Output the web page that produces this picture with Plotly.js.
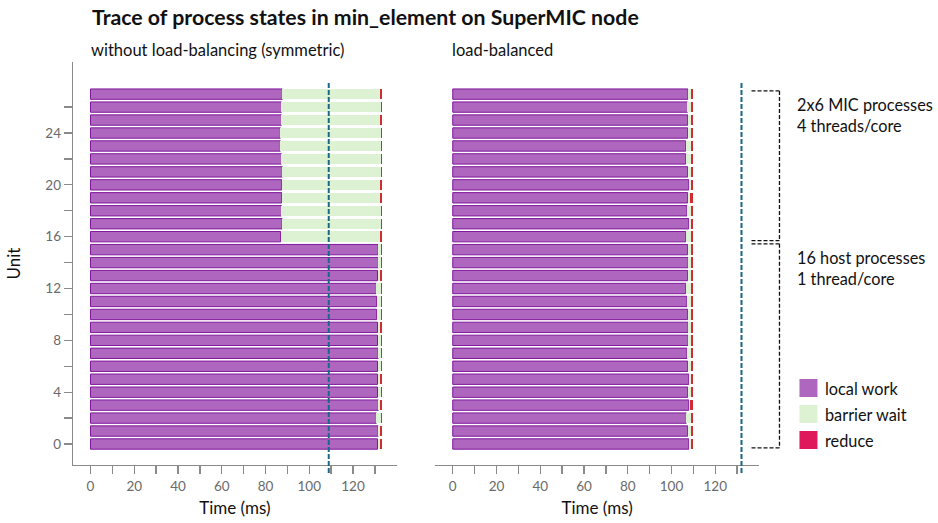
<!DOCTYPE html>
<html>
<head>
<meta charset="utf-8">
<script src="https://cdn.plot.ly/plotly-3.0.1.min.js"></script>
<style>html,body{margin:0;padding:0;background:#fff;}#chart{width:938px;height:523px;}</style>
</head>
<body>
<div id="chart"></div>
<script>
// ---- data ----
const units = [0,1,2,3,4,5,6,7,8,9,10,11,12,13,14,15,16,17,18,19,20,21,22,23,24,25,26,27];
const stateNames = ["local work", "barrier wait", "reduce"];

// without load-balancing (symmetric)
const leftLocalEnd = [131.2,131.5,130.7,131.6,131.2,131.2,131.2,131.5,131.2,131.2,130.8,130.8,130.7,131.2,131.6,131.5,
                      86.9,87.6,87.3,87.4,87.4,87.7,87.3,86.8,86.8,87.3,87.3,87.7];
const leftReduceStart = [132.3,132.3,132.7,132.3,132.7,132.3,132.7,132.7,132.7,132.3,132.7,132.7,132.7,132.3,132.7,132.7,
                         132.3,132.7,132.7,132.3,132.3,132.7,132.7,132.7,132.7,132.3,132.7,132.3];
const leftReduceEnd = [133.2,133.2,133.2,133.2,133.2,133.2,133.2,133.2,133.2,133.2,133.2,133.2,133.2,133.2,133.2,133.2,
                       133.2,133.2,133.2,133.2,133.2,133.2,133.2,133.2,133.2,133.2,133.2,133.2];

// load-balanced
const rightLocalEnd = [107.9,107.4,106.8,107.9,107.4,107.9,107.4,107.1,107.6,107.6,107.4,107.1,106.5,107.4,107.6,107.4,
                       106.5,107.9,107.1,107.4,107.9,107.4,106.5,106.5,107.4,107.4,107.3,107.5];
const rightReduceStart = [109.0,109.0,109.0,108.4,109.0,109.0,109.0,109.0,109.0,109.0,109.0,109.0,109.0,109.0,109.0,109.0,
                          109.0,109.0,109.0,108.4,109.0,109.0,109.0,109.0,109.0,109.0,109.0,109.0];
const rightReduceEnd = [109.9,109.9,109.9,109.9,109.9,109.9,109.9,109.9,109.9,109.9,109.9,109.9,109.9,109.9,109.9,109.9,
                        109.9,109.9,109.9,109.9,109.9,109.9,109.9,109.9,109.9,109.9,109.9,109.9];

// reference lines: total time of the other run
const leftRefTime = 108.9;
const rightRefTime = 132.0;

const xTickVals = [0,20,40,60,80,100,120];
const xMinorVals = [10,30,50,70,90,110,130];
const yTickVals = [0,4,8,12,16,20,24];
const yMinorVals = [2,6,10,14,18,22,26];

const groups = [
  {label: "2x6 MIC processes", sub: "4 threads/core", from: 16, to: 27},
  {label: "16 host processes", sub: "1 thread/core", from: 0, to: 15}
];

// ---- styles ----
const FONT = "Lato, 'DejaVu Sans', sans-serif";
const cLocal = "rgb(174,102,190)";
const cLocalEdge = "rgb(128,24,156)";
const cBarrier = "rgb(221,241,211)";
const cReduceBar = "rgb(208,44,52)";
const cReduceLegend = "rgb(222,24,90)";
const cRef = "rgb(22,104,134)";
const axisGray = "#8a8a8a";
const tickText = "#6a6a6a";

// geometry (pixels)
const W = 938, H = 523;
const mL = 73, mR = W - 759.5, mT = 62, mB = H - 465;
const pw = W - mL - mR, ph = H - mT - mB;
const px = v => (v - mL) / pw;          // pixel x -> paper x
const py = v => (H - mB - v) / ph;      // pixel y -> paper y

function sub(a, b) { return a.map((v, i) => v - b[i]); }
const zeros = units.map(() => 0);

function panelTraces(localEnd, redStart, redEnd, xa, ya) {
  return [
    {type: "bar", orientation: "h", y: units, x: localEnd, base: zeros, width: 0.8,
     name: stateNames[0], xaxis: xa, yaxis: ya, showlegend: false,
     marker: {color: cLocal, line: {color: cLocalEdge, width: 1}}, hoverinfo: "skip"},
    {type: "bar", orientation: "h", y: units, x: sub(redStart, localEnd), base: localEnd, width: 0.8,
     name: stateNames[1], xaxis: xa, yaxis: ya, showlegend: false,
     marker: {color: cBarrier, line: {width: 0}}, hoverinfo: "skip"},
    {type: "bar", orientation: "h", y: units, x: sub(redEnd, redStart), base: redStart, width: 0.8,
     name: stateNames[2], xaxis: xa, yaxis: ya, showlegend: false,
     marker: {color: cReduceBar, line: {width: 0}}, hoverinfo: "skip"}
  ];
}

const data = [].concat(
  panelTraces(leftLocalEnd, leftReduceStart, leftReduceEnd, "x", "y"),
  panelTraces(rightLocalEnd, rightReduceStart, rightReduceEnd, "x2", "y2")
);

const xRange = [-8, 140];
const yRange = [-1.62, 29.48];

function xAxis(domain, anchor) {
  return {
    domain: domain, anchor: anchor, range: xRange,
    tickmode: "array", tickvals: xTickVals, ticks: "outside", ticklen: 8, tickwidth: 1.3, tickcolor: axisGray,
    minor: {tickmode: "array", tickvals: xMinorVals, ticks: "outside", ticklen: 8, tickwidth: 1.3, tickcolor: axisGray, showgrid: false},
    showline: true, linecolor: axisGray, linewidth: 1.3,
    showgrid: false, zeroline: false,
    tickfont: {family: FONT, size: 13.5, color: tickText},
    title: {text: "Time (ms)", font: {family: FONT, size: 17, color: "#111"}, standoff: 9}
  };
}

const layout = {
  width: W, height: H,
  margin: {l: mL, r: mR, t: mT, b: mB, autoexpand: false},
  paper_bgcolor: "#fff", plot_bgcolor: "#fff",
  barmode: "overlay", bargap: 0,
  showlegend: false,
  font: {family: FONT, color: "#111"},
  title: {text: "<b>Trace of process states in min_element on SuperMIC node</b>",
          font: {family: FONT, size: 21.3, color: "#111"},
          xref: "container", yref: "container", x: 92 / W, xanchor: "left",
          y: 1 - 18 / H, yanchor: "middle"},
  xaxis: xAxis([0, px(397)], "y"),
  xaxis2: xAxis([px(435.5), 1], "y2"),
  yaxis: {
    domain: [0, 1], anchor: "x", range: yRange,
    tickmode: "array", tickvals: yTickVals, ticks: "outside", ticklen: 8, tickwidth: 1.3, tickcolor: axisGray,
    minor: {tickmode: "array", tickvals: yMinorVals, ticks: "outside", ticklen: 8, tickwidth: 1.3, tickcolor: axisGray, showgrid: false},
    showline: true, linecolor: axisGray, linewidth: 1.3,
    showgrid: false, zeroline: false,
    tickfont: {family: FONT, size: 13.5, color: tickText},
    title: {text: "Unit", font: {family: FONT, size: 17, color: "#111"}, standoff: 20}
  },
  yaxis2: {domain: [0, 1], anchor: "x2", range: yRange, visible: false, showgrid: false, zeroline: false},
  shapes: [],
  annotations: []
};

// reference dashed lines
layout.shapes.push({type: "line", xref: "x", yref: "paper", x0: leftRefTime, x1: leftRefTime,
  y0: py(473), y1: py(82), line: {color: cRef, width: 2, dash: "5px,2px"}});
layout.shapes.push({type: "line", xref: "x2", yref: "paper", x0: rightRefTime, x1: rightRefTime,
  y0: py(473), y1: py(82), line: {color: cRef, width: 2, dash: "5px,2px"}});

// group brackets
const bx0 = px(752), bx1 = px(780);
groups.forEach((g, i) => {
  const top = g.to + (i === 0 ? 0.25 : 0.45);
  const bot = g.from - 0.3;
  const ln = {color: "#111", width: 1.3, dash: "4px,2px"};
  layout.shapes.push({type: "line", xref: "paper", yref: "y2", x0: bx0, x1: bx1, y0: top, y1: top, line: ln});
  layout.shapes.push({type: "line", xref: "paper", yref: "y2", x0: bx1, x1: bx1, y0: top, y1: bot, line: ln});
  layout.shapes.push({type: "line", xref: "paper", yref: "y2", x0: bx0, x1: bx1, y0: bot, y1: bot, line: ln});
  const ty = top - 1.85;
  layout.annotations.push({xref: "paper", yref: "y2", x: px(796), y: ty, xanchor: "left", yanchor: "middle",
    text: g.label + "<br>" + g.sub, align: "left", showarrow: false,
    font: {family: FONT, size: 16.3, color: "#111"}});
});

// subplot titles
layout.annotations.push({xref: "paper", yref: "paper", x: px(89), y: py(50), xanchor: "left", yanchor: "middle",
  text: "without load-balancing (symmetric)", showarrow: false, font: {family: FONT, size: 16.5, color: "#111"}});
layout.annotations.push({xref: "paper", yref: "paper", x: px(450), y: py(50), xanchor: "left", yanchor: "middle",
  text: "load-balanced", showarrow: false, font: {family: FONT, size: 16.5, color: "#111"}});

// legend
const legendColors = [cLocal, cBarrier, cReduceLegend];
const legendY = [388, 414, 440];
stateNames.forEach((n, i) => {
  layout.shapes.push({type: "rect", xref: "paper", yref: "paper", x0: px(800), x1: px(818),
    y0: py(legendY[i] + 9), y1: py(legendY[i] - 9), fillcolor: legendColors[i], line: {width: 0}});
  layout.annotations.push({xref: "paper", yref: "paper", x: px(824), y: py(legendY[i]), xanchor: "left", yanchor: "middle",
    text: n, showarrow: false, font: {family: FONT, size: 16.3, color: "#111"}});
});

Plotly.newPlot("chart", data, layout, {displayModeBar: false, staticPlot: true});
</script>
</body>
</html>
